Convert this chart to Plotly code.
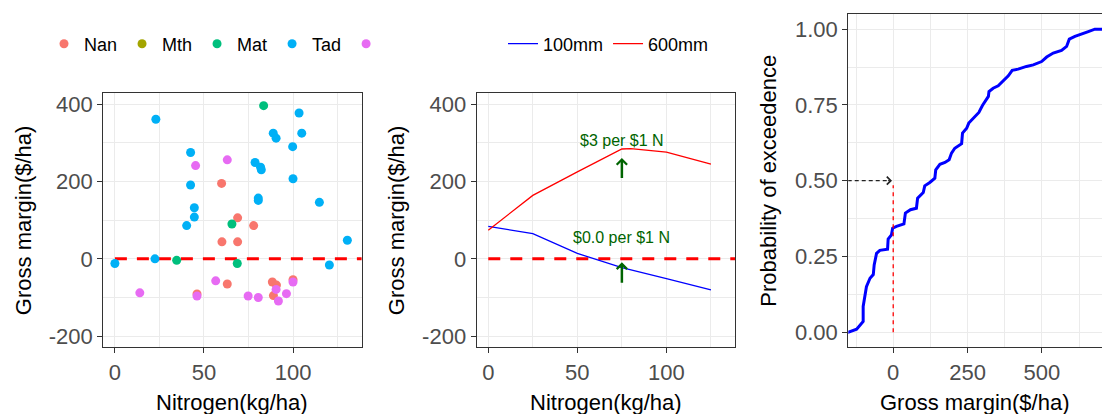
import plotly.graph_objects as go

# ---------------- data ----------------
# Panel 1: gross margin vs nitrogen, by site
nan_n = [59.9, 68.9, 77.9, 60.1, 68.9, 63.1, 46.1, 88.4, 90.7, 89.0, 100.0]
nan_gm = [195, 106, 86, 44, 44, -65, -91, -60, -68, -95, -54]
mth_n = [None]
mth_gm = [None]
mat_n = [83.5, 34.7, 65.7, 68.7]
mat_gm = [396, -4, 90, -12]
tad_n = [0, 23.0, 22.5, 42.5, 42.5, 44.6, 44.6, 40.3, 78.7, 81.8, 82.2, 80.5, 80.5,
         88.9, 90.5, 103.4, 104.9, 99.8, 100.0, 114.8, 120.4, 130.5]
tad_gm = [-12, 361, 0, 275, 191, 132, 108, 86, 249, 237, 230, 157, 151,
          325, 312, 377, 325, 290, 207, 146, -16, 48]
oth_n = [14.0, 45.3, 63.1, 56.6, 46.1, 74.8, 80.5, 90.5, 91.8, 96.3, 100.0]
oth_gm = [-88, 241, 256, -57, -96, -96, -100, -79, -109, -90, -60]

site_names = ["Nan", "Mth", "Mat", "Tad", " "]
site_colors = ["#F8766D", "#A3A500", "#00BF7D", "#00B0F6", "#E76BF3"]

# Panel 2: response curves
n_100 = [0, 25, 50, 75, 100, 125]
gm_100 = [84, 65, 14, -23, -51, -80]
n_600 = [0, 25, 50, 75, 80, 100, 125]
gm_600 = [74, 164, 225, 284, 285, 276, 245]
curve_names = ["100mm", "600mm"]
arrow_n = [75, 75]
arrow_head_gm = [261, -9]
arrow_tail_gm = [205, -66]
label_gm = [305, 56]
label_text = ["$3 per $1 N", "$0.0 per $1 N"]

# Panel 3: exceedance probability
exc_gm = [-160, -151, -123, -106, -101, -101, -95, -90, -78, -67, -64, -56, -45, -19, -17,
          -6, -2, 11, 36, 41, 58, 78, 82, 101, 106, 123, 140, 143, 157, 174, 188, 196,
          207, 230, 233, 247, 254, 275, 288, 300, 312, 320, 322, 336, 353, 370, 387,
          400, 420, 448, 471, 499, 516, 538, 566, 583, 592, 611, 633, 656, 678, 720]
exc_p = [0.0, 0.0, 0.01, 0.03, 0.035, 0.085, 0.123, 0.15, 0.178, 0.19, 0.222, 0.26,
         0.27, 0.274, 0.307, 0.321, 0.343, 0.349, 0.357, 0.393, 0.404, 0.409, 0.442,
         0.461, 0.483, 0.494, 0.508, 0.536, 0.554, 0.56, 0.569, 0.591, 0.607, 0.622,
         0.657, 0.673, 0.69, 0.712, 0.725, 0.748, 0.767, 0.778, 0.794, 0.805, 0.813,
         0.83, 0.846, 0.864, 0.868, 0.877, 0.882, 0.893, 0.908, 0.921, 0.93, 0.943,
         0.967, 0.976, 0.983, 0.992, 1.0, 1.0]
median_gm = 0
median_p = 0.5

zero_n = [0, 145]
zero_gm = [0, 0]

# ticks
gm_ticks = [-200, 0, 200, 400]
gm_ticktext = ["-200", "0", "200", "400"]
n_ticks = [0, 50, 100]
n_ticktext = ["0", "50", "100"]
p_ticks = [0, 0.25, 0.5, 0.75, 1.0]
p_ticktext = ["0.00", "0.25", "0.50", "0.75", "1.00"]
gm3_ticks = [0, 250, 500, 750]
gm3_ticktext = ["0", "250", "500", "750"]

# ---------------- figure ----------------
W, H = 1102, 414
FONT = "Liberation Sans, Arial, sans-serif"
GRID = "#EBEBEB"
FRAME = "#333333"

fig = go.Figure()

# Panel 1
fig.add_trace(go.Scatter(x=zero_n, y=zero_gm, mode="lines", xaxis="x", yaxis="y",
                         line=dict(color="#FF0000", width=3, dash="12px,10px"),
                         showlegend=False, hoverinfo="skip"))
for nm, col, xs, ys in zip(site_names, site_colors,
                           [nan_n, mth_n, mat_n, tad_n, oth_n],
                           [nan_gm, mth_gm, mat_gm, tad_gm, oth_gm]):
    fig.add_trace(go.Scatter(x=xs, y=ys, mode="markers", name=nm, xaxis="x", yaxis="y",
                             marker=dict(color=col, size=9), legend="legend"))

# Panel 2
fig.add_trace(go.Scatter(x=zero_n, y=zero_gm, mode="lines", xaxis="x2", yaxis="y2",
                         line=dict(color="#FF0000", width=3, dash="12px,10px"),
                         showlegend=False, hoverinfo="skip"))
fig.add_trace(go.Scatter(x=n_100, y=gm_100, mode="lines", name=curve_names[0],
                         xaxis="x2", yaxis="y2", line=dict(color="#0000FF", width=1.3),
                         legend="legend2"))
fig.add_trace(go.Scatter(x=n_600, y=gm_600, mode="lines", name=curve_names[1],
                         xaxis="x2", yaxis="y2", line=dict(color="#FF0000", width=1.3),
                         legend="legend2"))

# Panel 3
fig.add_trace(go.Scatter(x=exc_gm, y=exc_p, mode="lines", xaxis="x3", yaxis="y3",
                         line=dict(color="#0000FF", width=3), showlegend=False))
fig.add_trace(go.Scatter(x=[-200, median_gm - 20], y=[median_p, median_p], mode="lines",
                         xaxis="x3", yaxis="y3",
                         line=dict(color="#222222", width=1.3, dash="4px,3px"),
                         showlegend=False, hoverinfo="skip"))
fig.add_trace(go.Scatter(x=[median_gm, median_gm], y=[0, median_p - 0.015], mode="lines",
                         xaxis="x3", yaxis="y3",
                         line=dict(color="#FF0000", width=1.3, dash="4px,4px"),
                         showlegend=False, hoverinfo="skip"))


def axis(domain, rng, tv, tt, minor_dtick, anchor, mirror=True):
    return dict(domain=domain, range=rng, anchor=anchor, tickmode="array",
                tickvals=tv, ticktext=tt, showgrid=True, gridcolor=GRID, gridwidth=1.1,
                minor=dict(showgrid=True, gridcolor=GRID, gridwidth=0.6,
                           tickmode="linear", tick0=0, dtick=minor_dtick),
                zeroline=False, showline=True, linecolor=FRAME, linewidth=1.3,
                mirror=mirror, ticks="outside", ticklen=5, tickwidth=1.3,
                tickcolor=FRAME, tickfont=dict(family=FONT, size=22, color="#4D4D4D"),
                automargin=False, fixedrange=True)


yb, yt = (H - 347) / H, (H - 93.3) / H
y3b, y3t = (H - 347.3) / H, (H - 14) / H
d1 = [103.3 / W, 361.6 / W]
d2 = [476.7 / W, 735 / W]
d3 = [848.3 / W, 1.0]

fig.update_layout(
    width=W, height=H, margin=dict(l=0, r=0, t=0, b=0),
    paper_bgcolor="white", plot_bgcolor="white",
    font=dict(family=FONT, color="black"),
    xaxis=axis(d1, [-6.5, 138.5], n_ticks, n_ticktext, 25, "y"),
    yaxis=axis([yb, yt], [-228, 428], gm_ticks, gm_ticktext, 100, "x"),
    xaxis2=axis(d2, [-6.5, 138.5], n_ticks, n_ticktext, 25, "y2"),
    yaxis2=axis([yb, yt], [-228, 428], gm_ticks, gm_ticktext, 100, "x2"),
    xaxis3=axis(d3, [-151, 702], gm3_ticks, gm3_ticktext, 125, "y3"),
    yaxis3=axis([y3b, y3t], [-0.05, 1.05], p_ticks, p_ticktext, 0.125, "x3", mirror=False),
    legend=dict(orientation="h", x=44 / W, xanchor="left", y=(H - 44) / H,
                yanchor="middle", font=dict(family=FONT, size=18, color="black"),
                bgcolor="rgba(0,0,0,0)", borderwidth=0),
    legend2=dict(orientation="h", x=503 / W, xanchor="left", y=(H - 44) / H,
                 yanchor="middle", font=dict(family=FONT, size=18, color="black"),
                 bgcolor="rgba(0,0,0,0)", borderwidth=0),
    showlegend=True,
)

ann = []
# axis titles
for xr, txt in [("x domain", "Nitrogen(kg/ha)"), ("x2 domain", "Nitrogen(kg/ha)"),
                ("x3 domain", "Gross margin($/ha)")]:
    ann.append(dict(text=txt, xref=xr, x=0.5, yref="paper", y=(H - 402) / H,
                    xanchor="center", yanchor="middle", showarrow=False,
                    font=dict(family=FONT, size=22, color="black")))
for xpx, yr, txt in [(23, "y domain", "Gross margin($/ha)"),
                     (396, "y2 domain", "Gross margin($/ha)"),
                     (769, "y3 domain", "Probability of exceedence")]:
    ann.append(dict(text=txt, xref="paper", x=xpx / W, yref=yr, y=0.5, textangle=-90,
                    xanchor="center", yanchor="middle", showarrow=False,
                    font=dict(family=FONT, size=22, color="black")))
# panel 2 arrows and labels
for xa, yh, ytl, yl, lt in zip(arrow_n, arrow_head_gm, arrow_tail_gm, label_gm, label_text):
    ann.append(dict(x=xa, y=yh, ax=xa, ay=ytl, xref="x2", yref="y2", axref="x2",
                    ayref="y2", text="", showarrow=True, arrowhead=4, arrowsize=0.8,
                    arrowwidth=2.5, arrowcolor="#006400"))
    ann.append(dict(x=xa, y=yl, xref="x2", yref="y2", text=lt, showarrow=False,
                    xanchor="center", yanchor="middle",
                    font=dict(family=FONT, size=16, color="#006400")))
# panel 3 arrowhead at median
ann.append(dict(x=median_gm - 4, y=median_p, ax=median_gm - 22, ay=median_p, xref="x3",
                yref="y3", axref="x3", ayref="y3", text="", showarrow=True,
                arrowhead=4, arrowsize=1.4, arrowwidth=1.1, arrowcolor="#222222"))
fig.update_layout(annotations=ann)

fig.write_html("out.html", config={"displayModeBar": False},
               post_script="document.body.style.margin='0';document.body.style.overflow='hidden';")
